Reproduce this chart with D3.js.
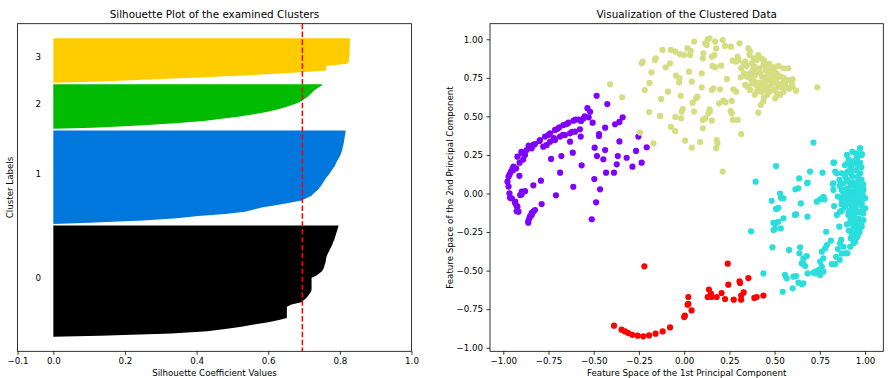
<!DOCTYPE html>
<html>
<head>
<meta charset="utf-8">
<script src="https://cdn.jsdelivr.net/npm/d3@7"></script>
<style>
  html, body { margin: 0; padding: 0; background: #fff; }
  svg text { font-family: "DejaVu Sans", sans-serif; fill: #000; }
</style>
</head>
<body>
<svg id="chart" width="890" height="378"></svg>
<script>
// silhouette values per cluster, sorted ascending (bottom -> top)
const sil0 = [0.13,0.33,0.43,0.48,0.525,0.56,0.60,0.63,0.652,0.652,0.652,0.652,0.652,0.652,0.665,0.693,0.70,0.707,0.712,0.716,
  0.72,0.721,0.721,0.721,0.721,0.721,0.721,0.735,0.743,0.75,0.754,0.756,0.758,0.76,0.761,0.762,0.764,0.767,0.77,0.773,
  0.776,0.779,0.781,0.784,0.786,0.788,0.79,0.792,0.794,0.796];
const sil1 = [0.10,0.25,0.345,0.405,0.48,0.535,0.56,0.585,0.625,0.66,0.693,0.706,0.72,0.726,0.733,0.74,0.744,0.749,0.753,0.757,
  0.761,0.766,0.771,0.775,0.779,0.784,0.787,0.79,0.793,0.797,0.80,0.803,0.805,0.807,0.808,0.81,0.811,0.812,0.813,0.814,0.815,0.816];
const sil2 = [0.11,0.24,0.34,0.42,0.47,0.52,0.56,0.595,0.62,0.643,0.662,0.68,0.693,0.702,0.711,0.718,0.724,0.731,0.74,0.75];
const sil3 = [0.13,0.27,0.42,0.56,0.67,0.762,0.762,0.762,0.82,0.825,0.826,0.826,0.827,0.827,0.827,0.828,0.828,0.828,0.828,0.828];
const silClusters = [sil0, sil1, sil2, sil3];
const clusterLabels = ["0", "1", "2", "3"];
const silColors = ["#000000", "#0077dd", "#00bb00", "#ffcc00"];
const avgScore = 0.6953;
const silTicks = [-0.1, 0.0, 0.2, 0.4, 0.6, 0.8, 1.0];

// PCA scatter, one array per cluster
const purplePts = [[-0.484,0.634],[-0.425,0.580],[-0.535,0.553],[-0.520,0.530],[-0.528,0.494],[-0.557,0.487],[-0.585,0.480],[-0.612,0.472],[-0.640,0.459],[-0.668,0.444],
  [-0.690,0.429],[-0.714,0.412],[-0.741,0.390],[-0.769,0.369],[-0.797,0.347],[-0.825,0.321],[-0.852,0.304],[-0.871,0.282],[-0.898,0.261],[-0.922,0.239],
  [-0.576,0.416],[-0.603,0.401],[-0.631,0.390],[-0.659,0.379],[-0.686,0.369],[-0.714,0.347],[-0.741,0.336],[-0.760,0.315],[-0.779,0.304],[-0.834,0.315],[-0.843,0.293],
  [-0.944,0.174],[-0.958,0.142],[-0.971,0.109],[-0.977,0.077],[-0.971,0.045],[-0.966,0.001],[-0.953,-0.031],[-0.934,-0.053],[-0.922,-0.085],[-0.916,-0.118],
  [-0.907,-0.010],[-0.898,0.012],[-0.911,0.115],[-0.944,0.152],[-0.929,0.163],
  [-0.834,-0.118],[-0.843,-0.139],[-0.856,-0.161],[-0.862,-0.189],[-0.825,-0.107],
  [-0.340,0.494],[-0.358,0.464],[-0.382,0.449],[-0.437,0.427],[-0.471,0.386],[-0.471,0.373],[-0.506,0.459],[-0.572,0.369],[-0.631,0.336],[-0.679,0.243],
  [-0.736,0.224],[-0.616,0.265],[-0.686,0.135],[-0.613,0.044],[-0.709,-0.012],[-0.788,-0.068],[-0.834,0.053],[-0.792,0.083],[-0.495,0.297],[-0.482,0.243],
  [-0.437,0.282],[-0.447,0.222],[-0.358,0.338],[-0.367,0.243],[-0.373,0.189],[-0.318,0.232],[-0.266,0.276],[-0.253,0.369],[-0.207,0.300],[-0.235,0.200],
  [-0.286,0.174],[-0.432,0.135],[-0.388,0.135],[-0.497,0.094],[-0.465,0.027],[-0.487,-0.057],[-0.511,-0.167],[-0.567,0.183],
  [-0.963,-0.028],[-0.935,-0.061],[-0.926,-0.082],[-0.926,-0.115],[-0.899,-0.006],[-0.880,0.015],[-0.843,-0.126],[-0.852,-0.147],[-0.862,-0.180],
  [-0.60,0.48],[-0.65,0.45],[-0.70,0.42],[-0.75,0.38],[-0.80,0.34],[-0.62,0.40],[-0.67,0.38],[-0.72,0.36],[-0.55,0.50],[-0.57,0.47],
  [-0.90,0.27],[-0.88,0.25],[-0.86,0.31],[-0.89,0.22],[-0.91,0.20],[-0.95,0.16],[-0.965,0.125]];

const cyanPts = [[0.715,0.330],[0.508,0.178],[0.696,0.142],[0.765,0.135],[0.636,0.098],[0.680,0.066],[0.615,0.027],[0.530,0.000],[0.549,-0.031],[0.484,-0.047],
  [0.508,-0.100],[0.645,-0.064],[0.733,-0.053],[0.752,-0.038],[0.770,-0.021],[0.776,-0.038],[0.829,-0.081],[0.613,-0.139],[0.619,-0.135],[0.682,-0.150],
  [0.549,-0.161],[0.521,-0.183],[0.503,-0.193],[0.494,-0.237],[0.534,-0.226],[0.844,-0.139],[0.862,-0.118],[0.871,-0.111],[0.858,-0.215],[0.785,-0.248],
  [0.488,-0.349],[0.580,-0.366],[0.641,-0.349],[0.637,-0.388],[0.659,-0.420],[0.678,-0.405],[0.650,-0.453],[0.669,-0.470],[0.656,-0.448],
  [0.811,-0.306],[0.789,-0.334],[0.779,-0.356],[0.761,-0.377],[0.770,-0.420],[0.752,-0.442],[0.761,-0.474],[0.742,-0.496],[0.770,-0.507],[0.752,-0.528],
  [0.724,-0.507],[0.715,-0.513],[0.733,-0.518],[0.683,-0.518],[0.816,-0.457],[0.835,-0.457],[0.558,-0.528],[0.567,-0.550],[0.604,-0.539],[0.619,-0.535],
  [0.632,-0.578],[0.650,-0.587],[0.659,-0.582],[0.600,-0.615],[0.545,-0.637],[0.438,-0.518],
  [0.868,-0.301],[0.862,-0.323],[0.881,-0.345],[0.890,-0.388],[0.903,-0.388],[0.918,-0.345],[0.945,-0.301],[0.955,-0.280],[0.936,-0.323],[0.964,-0.248],[0.973,-0.219],
  [0.973,0.293],[0.969,0.250],[0.982,0.250],[0.955,0.228],[0.945,0.200],[0.903,0.196],[0.927,0.185],[0.973,0.200],[0.829,0.200],
  [0.835,0.142],[0.844,0.131],[0.872,0.131],[0.903,0.142],[0.921,0.131],[0.973,0.131],[0.964,0.088],[0.955,0.066],
  [0.822,0.062],[0.859,0.088],[0.881,0.066],[0.908,0.077],[0.936,0.070],[0.973,0.044],[0.988,-0.010],[0.991,0.023],
  [0.825,0.023],[0.871,0.023],[0.890,0.001],[0.918,0.012],[0.945,0.023],[0.964,0.001],[0.899,-0.042],[0.927,-0.053],[0.955,-0.038],[0.982,-0.064],[0.871,-0.042],
  [0.890,-0.085],[0.918,-0.107],[0.945,-0.096],[0.973,-0.118],[1.001,-0.096],[0.908,-0.139],[0.936,-0.150],[0.964,-0.161],[0.991,-0.172],
  [0.918,-0.183],[0.954,-0.204],[0.982,-0.215],[0.936,-0.226],[0.964,-0.237],[0.927,-0.258],[0.955,-0.280],[0.921,-0.291],[0.945,-0.312],
  [0.395,0.077],[0.631,0.034],[0.683,0.070],[0.825,0.200],[0.825,0.066],[0.889,0.185],[0.908,0.196],[0.954,0.239],[0.972,0.293],[0.982,0.256],
  [0.370,-0.245],[0.535,-0.028],[0.521,-0.093],[0.493,-0.190],[0.502,-0.229],[0.613,-0.136],
  [0.90,0.25],[0.93,0.27],[0.95,0.26],[0.91,0.22],[0.94,0.21],[0.96,0.18],[0.98,0.17],[0.92,0.16],[0.95,0.15],[0.89,0.11],
  [0.93,0.11],[0.96,0.11],[0.98,0.09],[0.90,0.09],[0.92,0.05],[0.95,0.04],[0.97,0.02],[0.90,0.03],[0.93,0.00],[0.96,-0.01],
  [0.91,-0.02],[0.94,-0.03],[0.97,-0.04],[0.88,-0.02],[0.92,-0.07],[0.95,-0.07],[0.98,-0.08],[0.90,-0.06],[0.93,-0.10],[0.96,-0.12],
  [0.99,-0.13],[0.91,-0.12],[0.94,-0.13],[0.92,-0.16],[0.95,-0.18],[0.98,-0.19],[0.90,-0.20],[0.93,-0.20],[0.96,-0.22],[0.94,-0.24],
  [0.97,-0.25],[0.91,-0.24],[0.93,-0.27],[0.96,-0.27],[0.95,-0.29],[0.88,0.00],[0.87,-0.07],[0.99,0.03],[1.00,-0.03],[0.99,0.06],
  [0.86,0.05],[0.85,-0.02],[0.85,-0.36],[0.87,-0.39],[0.84,-0.41],[0.86,-0.43]];

const olivePts = [[-0.410,0.708],[-0.343,0.624],[-0.244,0.395],[-0.170,0.325],[-0.229,0.855],[-0.235,0.844],[-0.157,0.877],[-0.161,0.866],[-0.120,0.931],[-0.181,0.786],
  [-0.192,0.717],[-0.218,0.671],[-0.128,0.613],[-0.194,0.528],[-0.133,0.503],[-0.089,0.660],[-0.102,0.818],[-0.078,0.844],[-0.074,0.931],[-0.050,0.920],
  [-0.023,0.903],[0.000,0.898],[0.018,0.941],[0.036,0.926],[0.055,0.985],[0.033,0.898],[-0.045,0.764],[-0.026,0.747],[-0.028,0.719],[-0.019,0.634],
  [0.027,0.790],[0.042,0.725],[-0.049,0.496],[-0.014,0.531],[-0.008,0.548],[-0.017,0.488],[-0.074,0.433],[-0.050,0.405],[0.005,0.343],[0.042,0.297],
  [0.088,0.334],[0.103,0.423],[0.055,0.531],[0.047,0.589],[0.066,0.617],[0.073,0.628],[0.097,0.779],[0.097,0.689],[0.103,0.877],[0.106,0.909],
  [0.116,0.974],[0.130,1.000],[0.140,1.006],[0.125,0.963],[0.171,0.985],[0.177,0.941],[0.167,0.898],[0.153,0.887],[0.213,0.995],[0.226,0.957],
  [0.258,0.952],[0.306,0.974],[0.156,0.827],[0.171,0.818],[0.204,0.829],[0.236,0.743],[0.153,0.671],[0.162,0.682],[0.199,0.676],[0.140,0.546],
  [0.142,0.531],[0.134,0.520],[0.153,0.472],[0.103,0.477],[0.116,0.487],[0.180,0.347],[0.177,0.293],[0.184,0.325],[0.213,0.142],[0.193,0.585],
  [0.217,0.602],[0.228,0.591],[0.263,0.600],[0.257,0.535],[0.263,0.520],[0.269,0.477],[0.296,0.477],[0.315,0.386],[0.272,0.676],[0.287,0.660],
  [0.287,0.855],[0.296,0.887],[0.300,0.866],[0.268,0.861],[0.315,0.812],[0.313,0.753],[0.328,0.844],[0.337,0.855],[0.346,0.827],[0.355,0.941],
  [0.364,0.920],[0.331,0.779],[0.346,0.758],[0.337,0.704],[0.350,0.693],[0.364,0.671],[0.401,0.660],[0.429,0.660],[0.361,0.898],[0.383,0.877],
  [0.401,0.866],[0.410,0.898],[0.429,0.877],[0.442,0.861],[0.374,0.844],[0.387,0.823],[0.416,0.812],[0.438,0.833],[0.457,0.823],[0.364,0.779],
  [0.392,0.768],[0.410,0.784],[0.429,0.758],[0.457,0.762],[0.475,0.790],[0.493,0.801],[0.506,0.779],[0.521,0.827],[0.549,0.812],[0.576,0.812],
  [0.374,0.714],[0.401,0.719],[0.429,0.704],[0.447,0.725],[0.475,0.736],[0.493,0.714],[0.512,0.747],[0.521,0.693],[0.549,0.725],[0.576,0.736],
  [0.595,0.714],[0.619,0.667],[0.600,0.693],[0.549,0.660],[0.530,0.639],[0.503,0.617],[0.512,0.650],[0.471,0.660],[0.447,0.676],[0.457,0.693],
  [0.493,0.758],[0.512,0.779],[0.475,0.823],[0.438,0.596],[0.423,0.574],[0.410,0.524],[0.736,0.689],
  [0.40,0.80],[0.42,0.78],[0.45,0.80],[0.47,0.78],[0.50,0.74],[0.53,0.76],[0.55,0.75],[0.52,0.71],[0.48,0.70],[0.45,0.74],
  [0.43,0.72],[0.38,0.74],[0.40,0.70],[0.56,0.70],[0.58,0.68],[0.44,0.85],[0.47,0.84],[0.50,0.82],[0.38,0.80],[0.42,0.68],
  [0.46,0.64],[0.50,0.67],[0.54,0.69],[0.60,0.74],[0.39,0.64],[0.36,0.75],[0.44,0.62]];

const redPts = [[-0.220,-0.472],[0.241,-0.455],[-0.388,-0.857],[-0.346,-0.883],[-0.327,-0.894],[-0.309,-0.905],[-0.287,-0.916],[-0.257,-0.922],[-0.226,-0.926],[-0.194,-0.920],
  [-0.158,-0.909],[-0.119,-0.894],[-0.078,-0.868],[0.000,-0.801],[0.004,-0.792],[0.041,-0.758],[0.023,-0.716],[0.019,-0.721],[0.023,-0.671],
  [0.137,-0.623],[0.148,-0.649],[0.152,-0.671],[0.130,-0.671],[0.180,-0.671],[0.207,-0.645],[0.226,-0.684],[0.274,-0.688],[0.244,-0.591],
  [0.309,-0.580],[0.306,-0.569],[0.355,-0.548],[0.315,-0.662],[0.329,-0.641],[0.315,-0.688],[0.388,-0.677],[0.401,-0.671],[0.438,-0.662]];

const scatterSets = [purplePts, cyanPts, olivePts, redPts];
const scatterColors = ["#8000ff", "#2bdddd", "#d4dd80", "#ff0000"];
const pcTicks = [-1.0, -0.75, -0.5, -0.25, 0.0, 0.25, 0.5, 0.75, 1.0];

const svg = d3.select("#chart");

// ---------- left: silhouette plot ----------
const left = {x0: 17.5, x1: 411.5, y0: 23.7, y1: 351.3};
const pad = 6.5, gap = 0.7;   // rows of empty space around/between clusters
const totalRows = 2 * pad + d3.sum(silClusters, c => c.length) + gap * (silClusters.length - 1);

const xSil = d3.scaleLinear([-0.1, 1.0], [left.x0, left.x1]);
const ySil = d3.scaleLinear([0, totalRows], [left.y1, left.y0]);

const silArea = d3.area()
  .x0(xSil(0))
  .x1(d => xSil(d[0]))
  .y(d => ySil(d[1]));

let yLower = pad;
silClusters.forEach((vals, k) => {
  // one row per sample, edge passes through the row centres
  let pts = [[0, yLower]];
  vals.forEach((v, i) => pts.push([v, yLower + i + 0.5]));
  pts.push([vals[vals.length - 1], yLower + vals.length]);

  svg.append("path")
    .attr("d", silArea(pts))
    .attr("fill", silColors[k]);

  svg.append("text")
    .attr("x", xSil(-0.05))
    .attr("y", ySil(yLower + vals.length / 2))
    .attr("font-size", 8.7)
    .text(clusterLabels[k]);

  yLower += vals.length + gap;
});

svg.append("line")
  .attr("x1", xSil(avgScore)).attr("x2", xSil(avgScore))
  .attr("y1", left.y0).attr("y2", left.y1)
  .attr("stroke", "red")
  .attr("stroke-width", 1.5)
  .attr("stroke-dasharray", "5.5,2.4");

const silAxis = svg.append("g")
  .attr("transform", `translate(0,${left.y1})`)
  .call(d3.axisBottom(xSil).tickValues(silTicks).tickFormat(d3.format(".1f")).tickSize(3.5).tickPadding(3.5));

svg.append("rect")
  .attr("x", left.x0).attr("y", left.y0)
  .attr("width", left.x1 - left.x0).attr("height", left.y1 - left.y0)
  .attr("fill", "none").attr("stroke", "#000").attr("stroke-width", 0.8);

svg.append("text")
  .attr("x", (left.x0 + left.x1) / 2).attr("y", 18.3)
  .attr("text-anchor", "middle").attr("font-size", 10.4)
  .text("Silhouette Plot of the examined Clusters");

svg.append("text")
  .attr("x", (left.x0 + left.x1) / 2).attr("y", 376)
  .attr("text-anchor", "middle").attr("font-size", 8.7)
  .text("Silhouette Coefficient Values");

svg.append("text")
  .attr("transform", `translate(13.3,${(left.y0 + left.y1) / 2}) rotate(-90)`)
  .attr("text-anchor", "middle").attr("font-size", 8.7)
  .text("Cluster Labels");

// ---------- right: scatter of the clusters ----------
const right = {x0: 490, x1: 883.3, y0: 23.7, y1: 351.3};
const xPc = d3.scaleLinear([-1.0736, 1.101], [right.x0, right.x1]);
const yPc = d3.scaleLinear([-1.023, 1.101], [right.y1, right.y0]);

scatterSets.forEach((pts, k) => {
  svg.append("g")
    .selectAll("circle")
    .data(pts)
    .join("circle")
    .attr("cx", d => xPc(d[0]))
    .attr("cy", d => yPc(d[1]))
    .attr("r", 3.1)
    .attr("fill", scatterColors[k]);
});

const pcX = svg.append("g")
  .attr("transform", `translate(0,${right.y1})`)
  .call(d3.axisBottom(xPc).tickValues(pcTicks).tickFormat(d3.format(".2f")).tickSize(3.5).tickPadding(3.5));

const pcY = svg.append("g")
  .attr("transform", `translate(${right.x0},0)`)
  .call(d3.axisLeft(yPc).tickValues(pcTicks).tickFormat(d3.format(".2f")).tickSize(3.5).tickPadding(3.5));

svg.append("rect")
  .attr("x", right.x0).attr("y", right.y0)
  .attr("width", right.x1 - right.x0).attr("height", right.y1 - right.y0)
  .attr("fill", "none").attr("stroke", "#000").attr("stroke-width", 0.8);

svg.append("text")
  .attr("x", (right.x0 + right.x1) / 2).attr("y", 18.3)
  .attr("text-anchor", "middle").attr("font-size", 10.4)
  .text("Visualization of the Clustered Data");

svg.append("text")
  .attr("x", (right.x0 + right.x1) / 2).attr("y", 376)
  .attr("text-anchor", "middle").attr("font-size", 8.7)
  .text("Feature Space of the 1st Principal Component");

svg.append("text")
  .attr("transform", `translate(453,${(right.y0 + right.y1) / 2}) rotate(-90)`)
  .attr("text-anchor", "middle").attr("font-size", 8.7)
  .text("Feature Space of the 2nd Principal Component");

// axis styling like matplotlib
[silAxis, pcX, pcY].forEach(g => {
  g.select(".domain").remove();
  g.attr("font-family", "DejaVu Sans").attr("font-size", 8.7);
  g.selectAll(".tick line").attr("stroke", "#000").attr("stroke-width", 0.8);
  g.selectAll(".tick text").attr("fill", "#000");
});
</script>
</body>
</html>
